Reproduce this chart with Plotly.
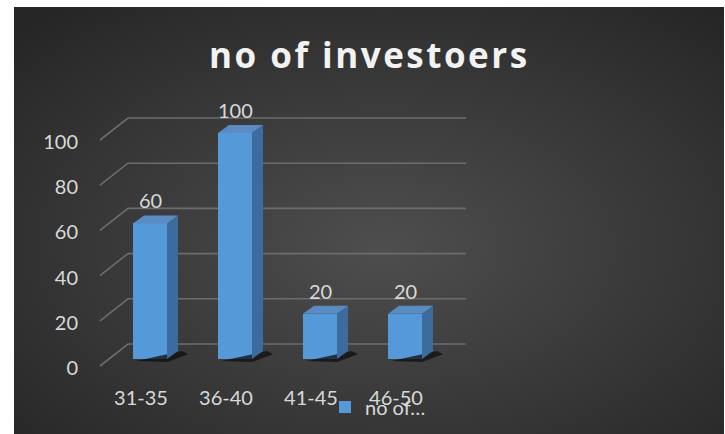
import base64
import plotly.graph_objects as go

# ---------------- data ----------------
categories = ["31-35", "36-40", "41-45", "46-50"]
investors = [60, 100, 20, 20]
y_ticks = [0, 20, 40, 60, 80, 100]
series_name = "no of…"
title_text = "no of investoers"

# ---------------- geometry (pixels) ----------------
W, H = 725, 434
CAT_PX = 85.0        # pixels between categories
CAT0_PX = 150.0      # pixel x of first category centre
UNIT_PX = 2.26       # pixels per value unit
ZERO_PX = 359.0      # pixel y of value 0 on the bar plane
PLOT_LEFT_PX = 84
PLOT_BOTTOM_PX = 384
BAR_W = 0.4
DEPTH_DX_PX, DEPTH_DY_PX = 11, 8   # bar depth offset
FRONT_DY_PX = 7                    # floor front edge below bar plane
BACK_DY_PX = 15                    # back wall above bar plane
GRID_LEFT_PX, GRID_WALL_PX, GRID_RIGHT_PX = 100, 128, 466

TXT = "#d9d9d9"
FONT = "Lato"


def px_to_x(px):
    return (px - CAT0_PX) / CAT_PX


def px_to_y(py):
    return (ZERO_PX - py) / UNIT_PX


DX = DEPTH_DX_PX / CAT_PX
DY = DEPTH_DY_PX / UNIT_PX

xs = list(range(len(categories)))

fig = go.Figure()

# shadows at the base of each bar
sh_x, sh_y = [], []
for i, v in zip(xs, investors):
    xr = i + BAR_W / 2
    sh_x += [i - BAR_W / 2 + DX * 0.3, xr, xr + DX + 10 / CAT_PX, xr + DX + 4 / CAT_PX, None]
    sh_y += [-2 / UNIT_PX, -3 / UNIT_PX, DY * 0.6, DY, None]
fig.add_trace(go.Scatter(x=sh_x, y=sh_y, fill="toself", mode="none",
                         fillcolor="rgba(15,15,15,0.75)", showlegend=False,
                         hoverinfo="skip"))

# side faces
sd_x, sd_y = [], []
for i, v in zip(xs, investors):
    xr = i + BAR_W / 2
    sd_x += [xr, xr + DX, xr + DX, xr, xr, None]
    sd_y += [0, DY, v + DY, v, 0, None]
fig.add_trace(go.Scatter(x=sd_x, y=sd_y, fill="toself", mode="none",
                         fillcolor="#3c6c9e", showlegend=False, hoverinfo="skip"))

# top faces
tp_x, tp_y = [], []
for i, v in zip(xs, investors):
    xl, xr = i - BAR_W / 2, i + BAR_W / 2
    tp_x += [xl, xr, xr + DX, xl + DX, xl, None]
    tp_y += [v, v, v + DY, v + DY, v, None]
fig.add_trace(go.Scatter(x=tp_x, y=tp_y, fill="toself", mode="none",
                         fillcolor="#5a8cc4", showlegend=False, hoverinfo="skip"))

# front faces (bars)
fig.add_trace(go.Bar(x=xs, y=investors, width=BAR_W, name=series_name,
                     marker=dict(color="#5699d8", line=dict(width=0)),
                     showlegend=True))

# gridlines (floor diagonal + back wall)
shapes = []
for v in y_ticks:
    path = (f"M {px_to_x(GRID_LEFT_PX)},{v - FRONT_DY_PX / UNIT_PX} "
            f"L {px_to_x(GRID_WALL_PX)},{v + BACK_DY_PX / UNIT_PX} "
            f"L {px_to_x(GRID_RIGHT_PX)},{v + BACK_DY_PX / UNIT_PX}")
    shapes.append(dict(type="path", path=path, xref="x", yref="y", layer="below",
                       line=dict(color="#6c6c6c", width=1.6)))

# data labels
annotations = []
for i, v in zip(xs, investors):
    annotations.append(dict(x=i, y=v, text=str(v), showarrow=False, yshift=23,
                            xanchor="center", yanchor="middle",
                            font=dict(family=FONT, size=20, color=TXT)))

# title
title_y = 1 - 54 / H
title_x = 369.5 / W
annotations.append(dict(x=title_x, y=title_y, xref="paper", yref="paper",
                        text=f'<span style="letter-spacing:2.5px"><b>{title_text}</b></span>',
                        showarrow=False, xanchor="center", yanchor="middle",
                        font=dict(family="Open Sans", size=35, color="#f2f2f2")))

# radial gradient background as svg image
BG_L, BG_T, BG_R = 14, 7, 724
bw, bh = BG_R - BG_L, H - BG_T
svg = (f'<svg xmlns="http://www.w3.org/2000/svg" width="{bw}" height="{bh}">'
       '<defs><radialGradient id="g" cx="0.52" cy="0.56" r="0.72">'
       '<stop offset="0" stop-color="#4e4e4e"/><stop offset="1" stop-color="#262626"/>'
       '</radialGradient></defs>'
       f'<rect width="{bw}" height="{bh}" fill="url(#g)"/></svg>')
src = "data:image/svg+xml;base64," + base64.b64encode(svg.encode()).decode()

fig.update_layout(
    width=W, height=H,
    margin=dict(l=0, r=0, t=0, b=0),
    paper_bgcolor="white", plot_bgcolor="rgba(0,0,0,0)",
    images=[dict(source=src, xref="paper", yref="paper", x=BG_L / W, y=1 - BG_T / H,
                 sizex=bw / W, sizey=bh / H, xanchor="left", yanchor="top",
                 sizing="stretch", layer="below")],
    xaxis=dict(domain=[PLOT_LEFT_PX / W, 1], range=[px_to_x(PLOT_LEFT_PX), px_to_x(W)],
               tickvals=xs, ticktext=categories, ticks="", showgrid=False, zeroline=False,
               showline=False, ticklabelshift=-9,
               tickfont=dict(family=FONT, size=20, color=TXT)),
    yaxis=dict(domain=[1 - PLOT_BOTTOM_PX / H, 1], range=[px_to_y(PLOT_BOTTOM_PX), px_to_y(0)],
               tickvals=y_ticks, ticks="", showgrid=False, zeroline=False, showline=False,
               ticklabelshift=9, ticklabelstandoff=5,
               tickfont=dict(family=FONT, size=20, color=TXT)),
    shapes=shapes,
    annotations=annotations,
    showlegend=True,
    legend=dict(orientation="h", x=325 / W, xanchor="left", y=1 - 407 / H, yanchor="middle",
                bgcolor="rgba(0,0,0,0)", font=dict(family=FONT, size=20, color=TXT)),
    bargap=0,
)

fig.write_html("out.html")
